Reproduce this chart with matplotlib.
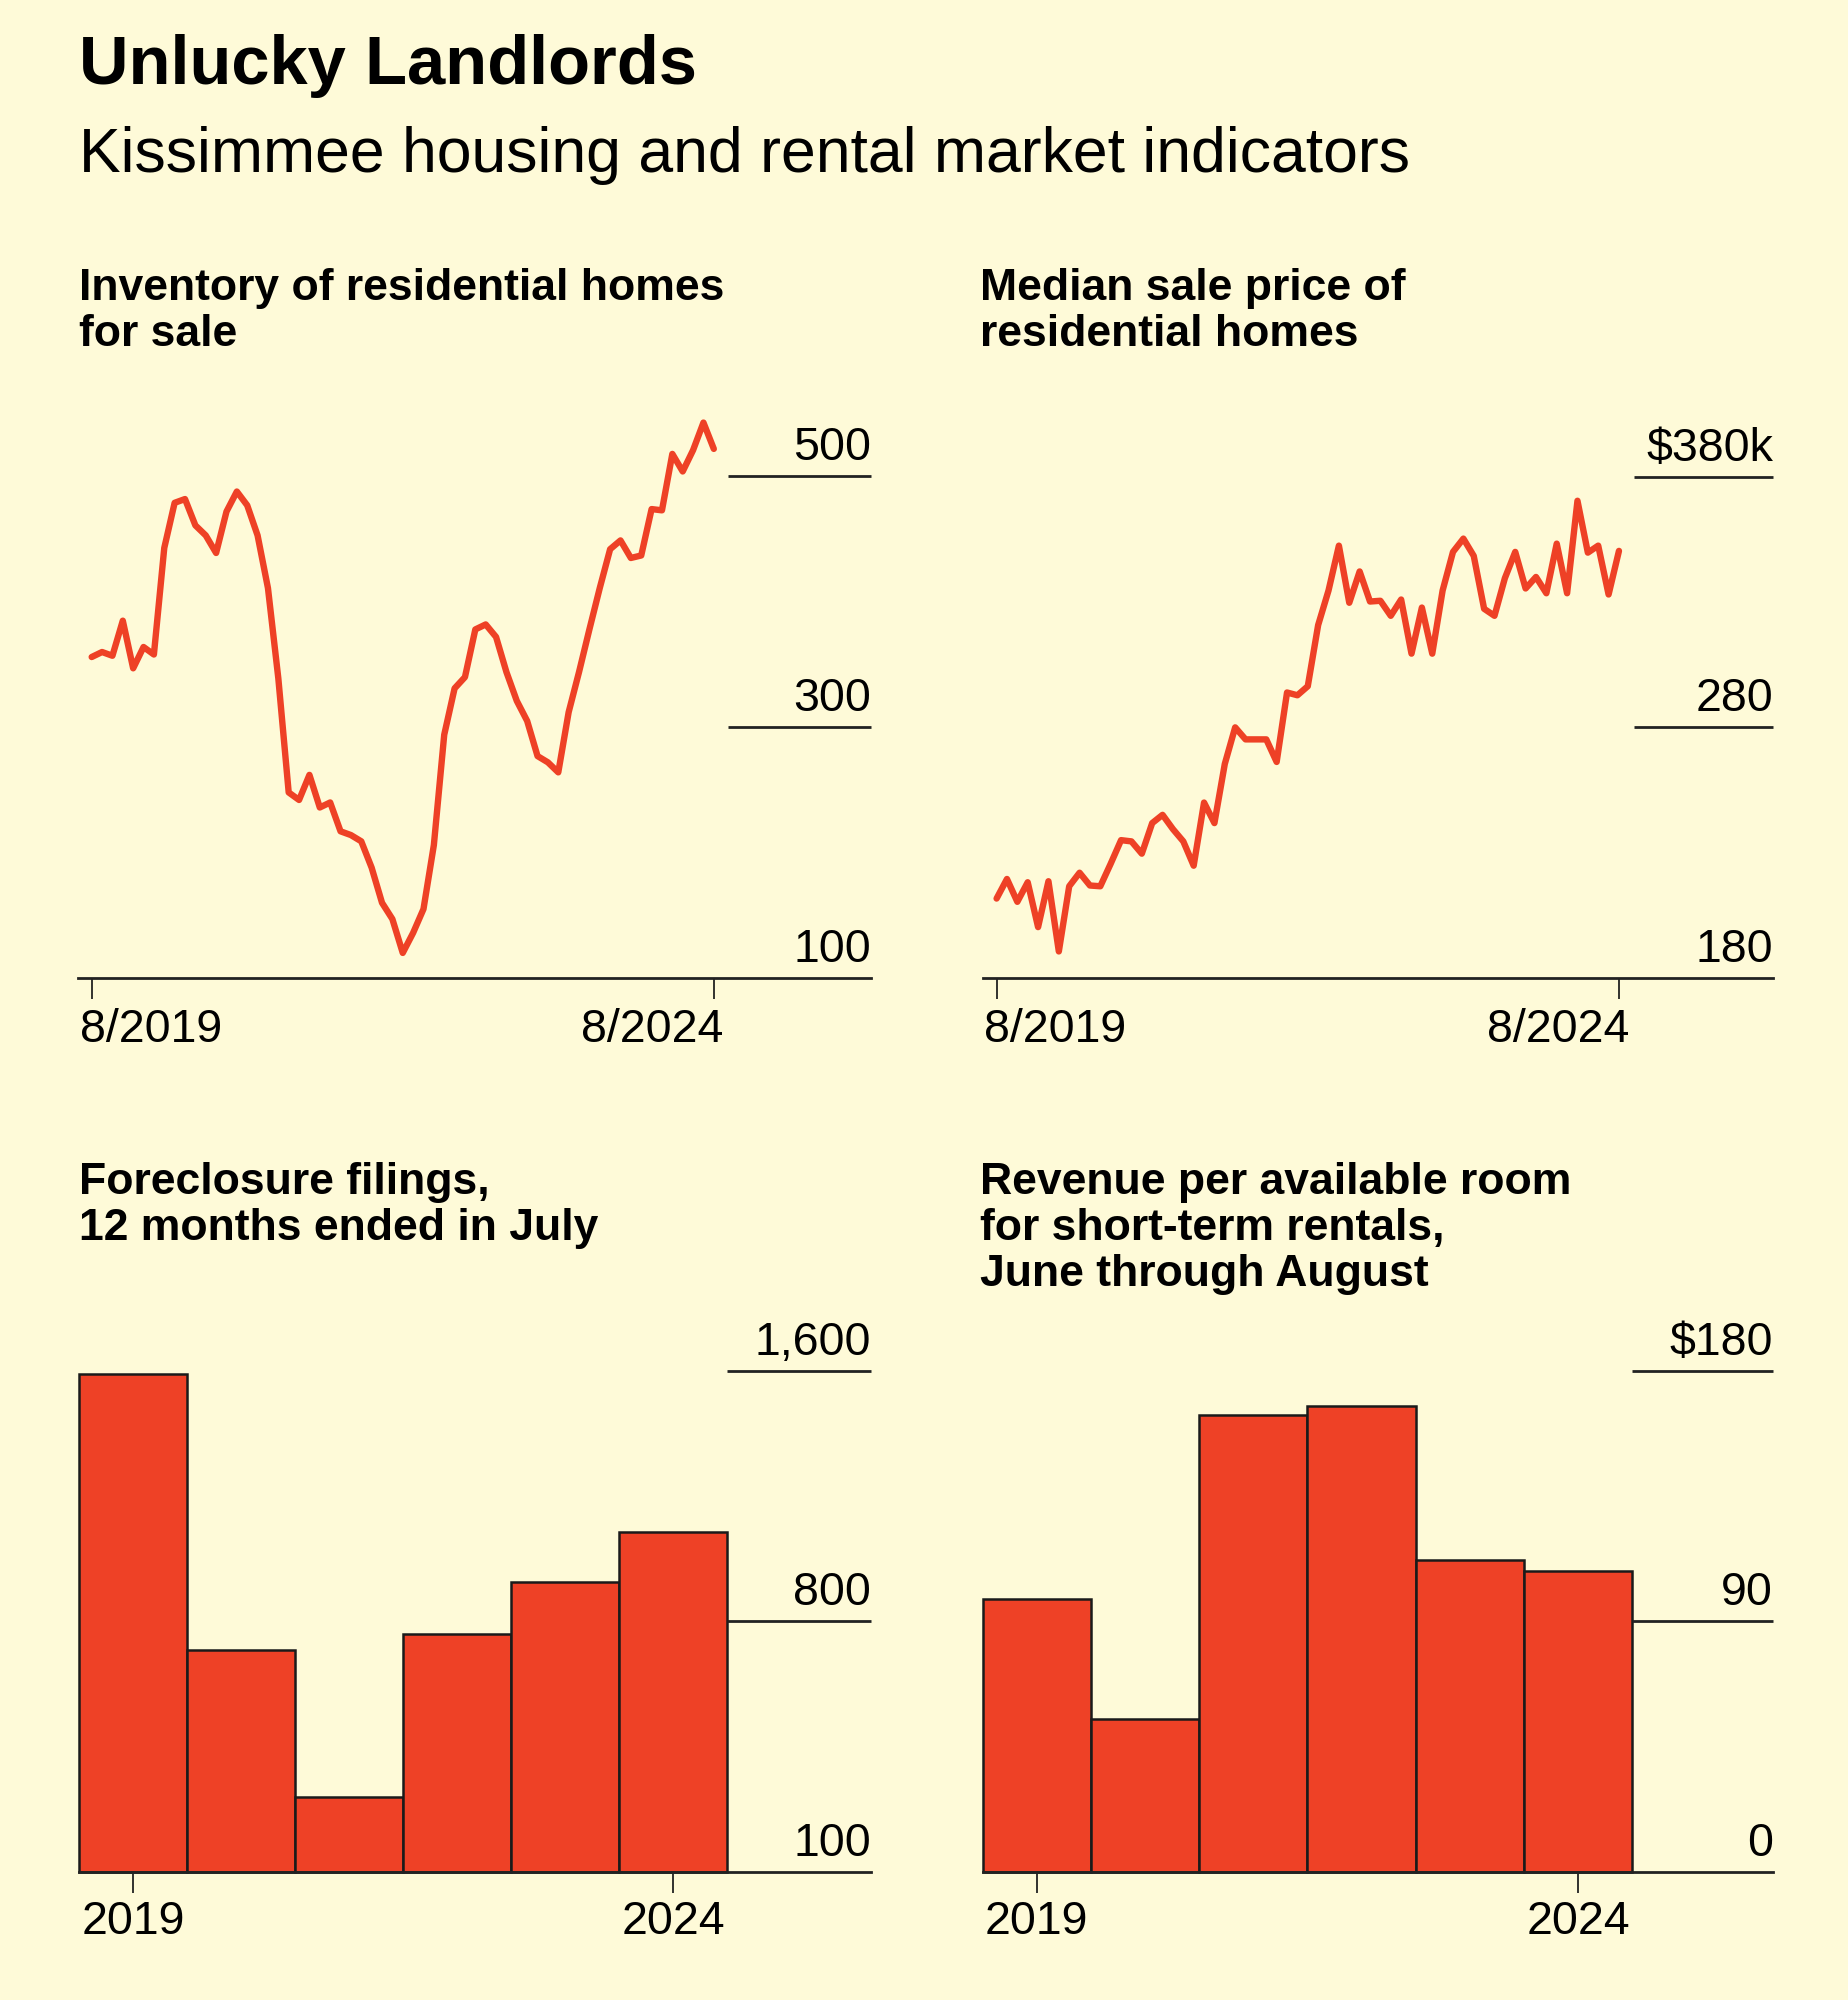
import matplotlib
matplotlib.use('Agg')
import matplotlib.pyplot as plt
import matplotlib.transforms as mtransforms

# Kissimmee housing / rental indicators, four small panels

BG = '#fefad8'
RED = '#ee4126'
INK = '#222222'

plt.rcParams['font.family'] = ['Liberation Sans', 'DejaVu Sans']

# monthly series, 8/2019 .. 8/2024 (month index 0..60)
months = list(range(61))
inventory = [356, 360, 357, 385, 347, 364, 358, 443, 479, 482,
             461, 453, 439, 472, 488, 477, 453, 411, 339, 248,
             242, 262, 236, 240, 217, 214, 209, 188, 160, 147,
             120, 136, 155, 206, 294, 331, 340, 378, 382, 372,
             344, 321, 305, 277, 272, 264, 312, 344, 378, 411,
             442, 449, 435, 437, 474, 473, 518, 504, 521, 543,
             522]
median_price = [211.7, 219.5, 210.4, 218.2, 200.3, 218.6, 190.6, 216.6, 222.0, 216.9,
                216.6, 225.6, 235.0, 234.5, 229.6, 241.8, 245.1, 239.4, 234.5, 224.8,
                250.0, 241.8, 265.4, 280.0, 275.2, 275.2, 275.2, 266.2, 293.9, 292.8,
                296.4, 320.8, 334.6, 352.5, 329.7, 342.2, 330.2, 330.5, 324.5, 331.0,
                309.4, 327.8, 309.4, 334.6, 350.0, 355.3, 348.4, 327.3, 324.5, 339.5,
                350.0, 335.4, 340.0, 333.5, 353.3, 333.5, 370.4, 349.7, 352.5, 333.0,
                350.4]
month_ticks = [0, 60]
month_labels = ['8/2019', '8/2024']

# yearly series
years = [2019, 2020, 2021, 2022, 2023, 2024]
foreclosures = [1590, 710, 240, 760, 925, 1085]
revpar = [98, 55, 164, 167.5, 112, 108]
year_ticks = [2019, 2024]
year_labels = ['2019', '2024']

W, H = 1849, 2000
fig = plt.figure(figsize=(W / 100, H / 100), dpi=100, facecolor=BG)


def px_axes(left, top, right, bottom):
    return fig.add_axes([left / W, 1 - bottom / H, (right - left) / W, (bottom - top) / H],
                        facecolor=BG)


def fig_text(x, y, s, **kw):
    fig.text(x / W, 1 - y / H, s, ha='left', va='baseline', color='black', **kw)


def style(ax, yvals, ylabels, grid_from, xticks, xlabels, xha, xdx, xdy):
    for s in ['top', 'left', 'right']:
        ax.spines[s].set_visible(False)
    ax.spines['bottom'].set_linewidth(2)
    ax.spines['bottom'].set_color(INK)
    ax.set_yticks([])
    ax.set_xticks(xticks)
    ax.set_xticklabels([])
    ax.tick_params(axis='x', length=15, width=1.3, color=INK)
    x1 = ax.get_xlim()[1]
    ax.hlines(yvals[1:], grid_from, x1, color=INK, lw=2, clip_on=False)
    ytrans = mtransforms.offset_copy(ax.get_yaxis_transform(), fig=fig, x=0, y=16, units='dots')
    for v, lab in zip(yvals, ylabels):
        ax.text(1, v, lab, transform=ytrans, ha='right', va='baseline', fontsize=33.5, color='black')
    base = mtransforms.blended_transform_factory(ax.transData, ax.transAxes)
    for x, lab, ha, dx in zip(xticks, xlabels, xha, xdx):
        tr = mtransforms.offset_copy(base, fig=fig, x=dx, y=-xdy, units='dots')
        ax.text(x, 0, lab, transform=tr, ha=ha, va='baseline', fontsize=33.5, color='black')


# headline
fig_text(79, 84, 'Unlucky Landlords', fontsize=49.5, fontweight='bold')
fig_text(79, 172, 'Kissimmee housing and rental market indicators', fontsize=45)

# panel titles
for i, line in enumerate(['Inventory of residential homes', 'for sale']):
    fig_text(79, 300 + 46 * i, line, fontsize=32, fontweight='bold')
for i, line in enumerate(['Median sale price of', 'residential homes']):
    fig_text(980, 300 + 46 * i, line, fontsize=32, fontweight='bold')
for i, line in enumerate(['Foreclosure filings,', '12 months ended in July']):
    fig_text(79, 1194 + 46 * i, line, fontsize=32, fontweight='bold')
for i, line in enumerate(['Revenue per available room', 'for short-term rentals,',
                          'June through August']):
    fig_text(980, 1194 + 46 * i, line, fontsize=32, fontweight='bold')

# inventory line
ax1 = px_axes(78, 400, 871, 978)
ax1.plot(months, inventory, color=RED, lw=4.6, solid_joinstyle='round', solid_capstyle='round')
ax1.set_xlim(-1.32, 75.16)
ax1.set_ylim(100, 561)
style(ax1, [100, 300, 500], ['100', '300', '500'], 61.34,
      month_ticks, month_labels, ['left', 'right'], [-12, 10], 64)

# median price line
ax2 = px_axes(983, 400, 1773, 978)
ax2.plot(months, median_price, color=RED, lw=4.6, solid_joinstyle='round', solid_capstyle='round')
ax2.set_xlim(-1.31, 74.85)
ax2.set_ylim(180, 410.6)
style(ax2, [180, 280, 380], ['180', '280', '$380k'], 61.41,
      month_ticks, month_labels, ['left', 'right'], [-13, 10], 64)

# foreclosure bars (axis labels placed as in the original graphic)
ax3 = px_axes(79, 1290, 871, 1872)
ax3.bar(years, foreclosures, width=1.0, color=RED, edgecolor='#1a1a1a', linewidth=1.8, clip_on=False)
ax3.set_xlim(2018.5, 2025.83)
ax3.set_ylim(0, 1857.6)
style(ax3, [0, 800, 1600], ['100', '800', '1,600'], 2024.5,
      year_ticks, year_labels, ['center', 'center'], [0, 0], 62)

# revpar bars
ax4 = px_axes(982.5, 1290, 1773, 1872)
ax4.bar(years, revpar, width=1.0, color=RED, edgecolor='#1a1a1a', linewidth=1.8, clip_on=False)
ax4.set_xlim(2018.5, 2025.80)
ax4.set_ylim(0, 209.0)
style(ax4, [0, 90, 180], ['0', '90', '$180'], 2024.5,
      year_ticks, year_labels, ['center', 'center'], [0, 0], 62)

fig.savefig('out.png', dpi=100, facecolor=BG)
